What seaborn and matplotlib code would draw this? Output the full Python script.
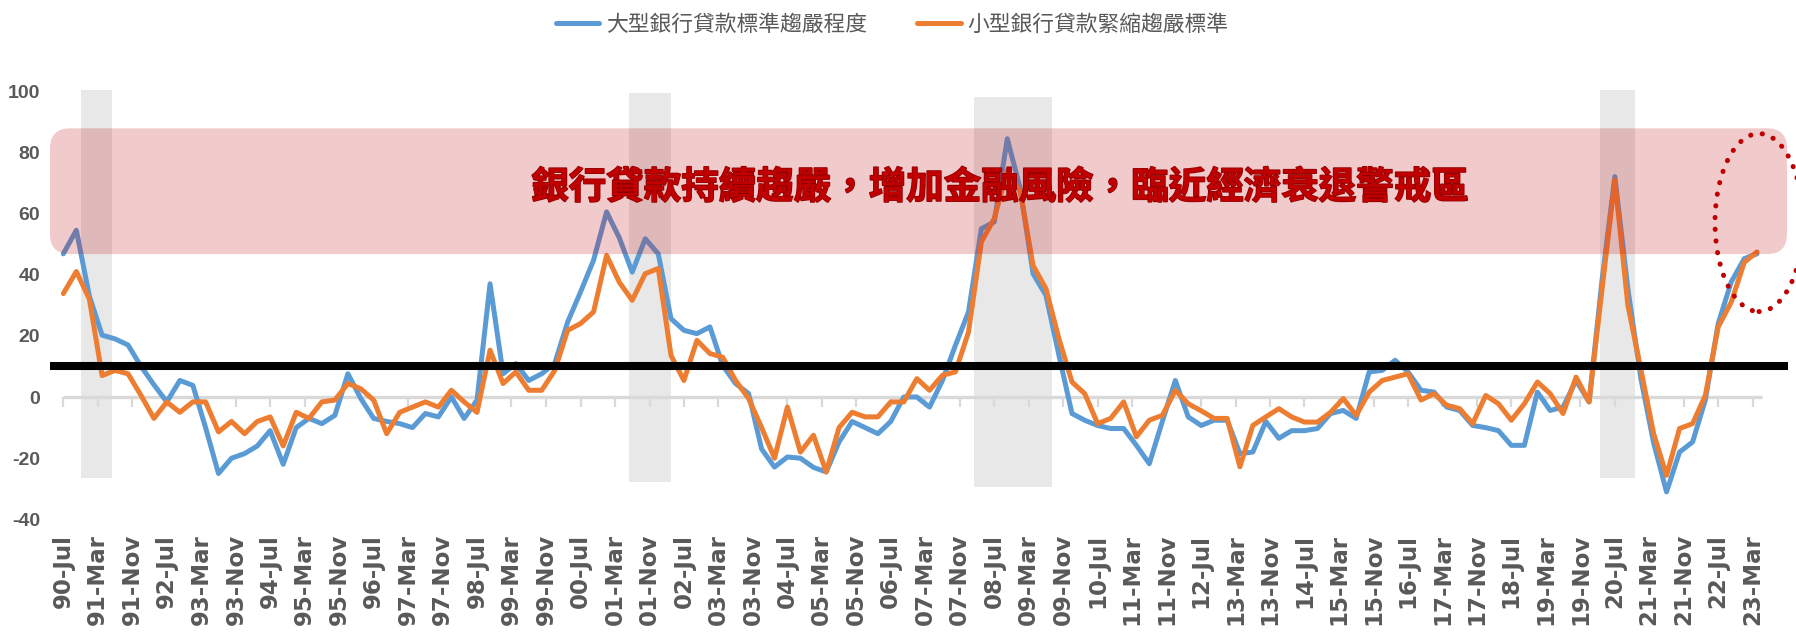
import numpy as np
import pandas as pd
import matplotlib
matplotlib.use('Agg')
import matplotlib.pyplot as plt
import matplotlib.dates as mdates
import matplotlib.patheffects as pe
from matplotlib.patches import FancyBboxPatch, Ellipse
from matplotlib import font_manager
import seaborn as sns

# ---------------- data ----------------
series_names = ['大型銀行貸款標準趨嚴程度', '小型銀行貸款緊縮趨嚴標準']
series_colors = ['#5B9BD5', '#ED7D31']

dates = pd.date_range('1990-07-01', periods=132, freq='QS-JAN')

large_bank = [
    46.8, 54.5, 33, 20.2, 19, 17, 10, 4, -1.6, 5.4,
    3.8, -10, -25, -20, -18.5, -16, -11, -22, -10, -7,
    -8.7, -6, 7.6, -0.5, -7, -8, -8.7, -10, -5.4, -6.5,
    0, -7, -1, 37, 7.6, 10.9, 5.4, 7.6, 11, 24.5,
    34.3, 44.7, 60.5, 52, 40.8, 51.7, 46.8, 25.6, 21.8, 20.7,
    22.9, 10.3, 4.4, 1.1, -17, -22.9, -19.6, -20, -23, -24.5,
    -14.7, -8, -10, -12, -8, 0, 0, -3.3, 5.4, 16.9,
    27.8, 55, 57.2, 84.4, 68, 40.3, 33.2, 13.6, -5.4, -7.6,
    -9.3, -10.3, -10.3, -15.8, -21.8, -8, 5.4, -6.5, -9.3, -7.6,
    -7.6, -18.5, -18, -8, -13.5, -11, -11, -10.3, -5.4, -4.4,
    -7, 8.2, 8.7, 12, 8.2, 2.2, 1.6, -3.3, -4.4, -9.3,
    -10, -11, -15.8, -15.8, 1.6, -4.4, -3.3, 5.4, -1.6, 38,
    72, 35.4, 6, -15, -31, -18, -14.7, -1, 24, 37.6,
    45.2, 46.8,
]
small_bank = [
    33.8, 41, 32, 7, 8.7, 7.6, 0.5, -7, -1.6, -5,
    -1.6, -1.6, -11.4, -8, -12, -8, -6.5, -16, -5, -7,
    -1.6, -1, 4.4, 2.7, -1, -12, -5, -3.3, -1.6, -3.3,
    2.2, -1.6, -5, 15.3, 4.4, 8.2, 2.2, 2.2, 8.7, 21.8,
    24, 27.8, 46.3, 37.5, 31.6, 40.3, 42, 13.6, 5.4, 18.5,
    14.2, 13, 5.4, -0.5, -10, -20, -3.3, -18, -12.5, -24.5,
    -10, -5, -6.5, -6.5, -1.6, -1.6, 6, 2.2, 7.1, 8.2,
    21.2, 50.7, 58.3, 74, 67, 43, 35.4, 19, 4.9, 1.1,
    -8.7, -7, -1.6, -13, -7.6, -6, 2.2, -2.2, -4.5, -7,
    -7, -22.8, -9.3, -6.5, -3.8, -6.5, -8.2, -8.2, -5, -0.5,
    -6, 1.6, 5.4, 6.5, 7.6, -1, 1.1, -2.7, -3.8, -8.7,
    0.5, -2.2, -7.6, -2.2, 4.9, 1.1, -5.4, 6.5, -1.6, 35,
    71, 30, 9, -12, -25.6, -10.3, -8.7, 0.5, 22.9, 31,
    44, 47.4,
]

tick_dates = pd.date_range('1990-07-01', periods=50, freq='8MS')
tick_labels = [d.strftime('%y-%b') for d in tick_dates]
yticks = [-40, -20, 0, 20, 40, 60, 80, 100]

band_start = ['1990-11-01', '2001-06-10', '2008-02-09', '2020-03-18']
band_end = ['1991-06-12', '2002-03-30', '2009-08-16', '2020-11-20']
band_low = [-26.5, -27.7, -29.3, -26.6]
band_high = [100.3, 99.5, 97.9, 100.3]

threshold = 10
zone_low, zone_high = 46.7, 87.8
annotation = '銀行貸款持續趨嚴，增加金融風險，臨近經濟衰退警戒區'

# ---------------- style ----------------
sns.set_style('white')
plt.rcParams['font.family'] = ['Noto Sans CJK TC', 'DejaVu Sans']
plt.rcParams['axes.unicode_minus'] = False

names = {f.name for f in font_manager.fontManager.ttflist}
if 'Liberation Sans Narrow' in names:
    ytick_font, ytick_size = 'Liberation Sans Narrow', 17
elif 'Liberation Sans' in names:
    ytick_font, ytick_size = 'Liberation Sans', 14
else:
    ytick_font, ytick_size = 'DejaVu Sans', 13

W, H = 1796, 635
fig = plt.figure(figsize=(W / 100, H / 100), dpi=100)

ax_left_px, ax_right_px = 50, 1790
ylim = (-42, 102)
px_per_unit = 3.06
zero_px = 397
ax_top_px = zero_px - px_per_unit * ylim[1]
ax_bot_px = zero_px - px_per_unit * ylim[0]
ax = fig.add_axes([ax_left_px / W, 1 - ax_bot_px / H,
                   (ax_right_px - ax_left_px) / W, (ax_bot_px - ax_top_px) / H])

df = pd.DataFrame({
    'date': list(dates) * 2,
    'value': large_bank + small_bank,
    'series': [series_names[0]] * len(dates) + [series_names[1]] * len(dates),
})
sns.lineplot(data=df, x='date', y='value', hue='series', hue_order=series_names,
             palette=series_colors, linewidth=3.6, ax=ax, zorder=3)

# x mapping (pixels <-> date numbers)
d0 = mdates.date2num(dates[0])
d1 = mdates.date2num(dates[-1])
first_px, last_px = 63.3, 1757
ppd = (last_px - first_px) / (d1 - d0)


def px2num(px):
    return d0 + (px - first_px) / ppd


ax.set_xlim(px2num(ax_left_px), px2num(ax_right_px))
ax.set_ylim(*ylim)

# recession bands
for s, e, lo, hi in zip(band_start, band_end, band_low, band_high):
    xs = [mdates.date2num(pd.Timestamp(s)), mdates.date2num(pd.Timestamp(e))]
    ax.fill_between(xs, [lo, lo], [hi, hi], color='#E8E8E8', lw=0, zorder=0)

# zero axis line and ticks
ax.hlines(0, d0, px2num(1762), color='#D9D9D9', lw=2.4, zorder=1)
tick_nums = mdates.date2num(tick_dates)
ax.vlines(tick_nums, -3.3, 0, color='#D9D9D9', lw=1.6, zorder=1)

# threshold line
ax.hlines(threshold, px2num(50), px2num(1788), color='black', lw=5.8,
          zorder=5, clip_on=False)

# warning zone
box = FancyBboxPatch((px2num(50), zone_low), px2num(1787) - px2num(50),
                     zone_high - zone_low,
                     boxstyle=f'round,pad=0,rounding_size={20 / ppd}',
                     mutation_aspect=ppd / px_per_unit,
                     facecolor='#C0101A', alpha=0.22, edgecolor='none',
                     zorder=4, clip_on=False)
ax.add_patch(box)

# dotted ellipse
ell = Ellipse((px2num(1759), 57.0), width=88 / ppd, height=178 / px_per_unit,
              fill=False, edgecolor='#C00000', lw=3.6,
              linestyle=(0, (0.05, 2.3)), zorder=6, clip_on=False)
ell.set_capstyle('round')
ax.add_patch(ell)

# annotation text
ax.text(px2num(1000), 68.6, annotation, ha='center', va='center',
        fontsize=27, fontweight='bold', color='#C00000',
        family=['Noto Sans CJK TC', 'DejaVu Sans'], zorder=7,
        path_effects=[pe.withStroke(linewidth=1.2, foreground='#900000')])

# ticks
ax.set_xticks(tick_nums)
ax.set_xticklabels(tick_labels, rotation=90, fontsize=16.5, fontweight='bold',
                   color='#595959', family='DejaVu Sans')
ax.tick_params(axis='x', length=0, pad=6)
ax.set_yticks(yticks)
ax.set_yticklabels([str(v) for v in yticks], fontsize=ytick_size,
                   fontweight='bold', color='#595959', family=ytick_font)
ax.tick_params(axis='y', length=0, pad=7)
ax.set_xlabel('')
ax.set_ylabel('')
ax.grid(False)
for s in ax.spines.values():
    s.set_visible(False)

# legend
handles, labels = ax.get_legend_handles_labels()
if ax.get_legend() is not None:
    ax.get_legend().remove()
leg = fig.legend(handles, labels, loc='center', bbox_to_anchor=(892 / W, 1 - 25 / H),
                 ncol=2, frameon=False, handlelength=2.0,
                 handletextpad=0.3, columnspacing=2.3, labelcolor='#595959',
                 prop={'family': ['Noto Sans CJK TC', 'DejaVu Sans'], 'size': 15.7})
for h in leg.legend_handles:
    h.set_linewidth(3.6)

fig.savefig('out.png', dpi=100, facecolor='white')
